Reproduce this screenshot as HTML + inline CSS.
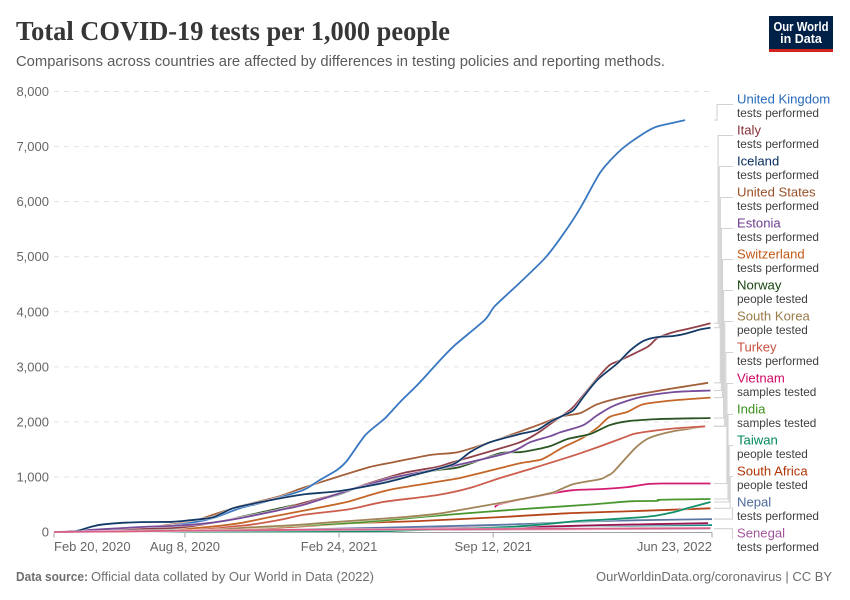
<!DOCTYPE html>
<html lang="en">
<head>
<meta charset="utf-8">
<title>Total COVID-19 tests per 1,000 people</title>
<style>
html,body{margin:0;padding:0;background:#fff;width:850px;height:600px;overflow:hidden}
svg{display:block;font-family:"Liberation Sans",sans-serif}
</style>
</head>
<body>
<svg id="chart" xmlns="http://www.w3.org/2000/svg" width="850" height="600" viewBox="0 0 850 600">
  <text x="16" y="40" font-family="'Liberation Serif',serif" font-weight="700" font-size="27" fill="#363636" textLength="434" lengthAdjust="spacingAndGlyphs">Total COVID-19 tests per 1,000 people</text>
  <text x="16" y="66" font-size="14.5" fill="#5b5b5b" textLength="649" lengthAdjust="spacingAndGlyphs">Comparisons across countries are affected by differences in testing policies and reporting methods.</text>
  <g>
    <rect x="769" y="16" width="64" height="36" fill="#002147"/>
    <rect x="769" y="49" width="64" height="3" fill="#ce261e"/>
    <text x="801" y="31" text-anchor="middle" font-size="12.5" font-weight="700" fill="#fff" textLength="55" lengthAdjust="spacingAndGlyphs">Our World</text>
    <text x="801" y="43" text-anchor="middle" font-size="12.5" font-weight="700" fill="#fff">in Data</text>
  </g>
  <g id="grid"></g>
  <g id="yaxis"></g>
  <g id="xaxis"></g>
  <g id="connectors"></g>
  <g id="lines"></g>
  <g id="legend"></g>
  <text x="16" y="581" font-size="12.5" font-weight="700" fill="#6e6e6e" textLength="72" lengthAdjust="spacingAndGlyphs">Data source:</text>
  <text x="91" y="581" font-size="12.5" fill="#6e6e6e" textLength="283" lengthAdjust="spacingAndGlyphs">Official data collated by Our World in Data (2022)</text>
  <text x="596" y="581" font-size="12.5" fill="#6e6e6e" textLength="236" lengthAdjust="spacingAndGlyphs">OurWorldinData.org/coronavirus | CC BY</text>
</svg>
<script>
// Axis labels and tick values
const yTickValues = [0, 1000, 2000, 3000, 4000, 5000, 6000, 7000, 8000];
const yTickLabels = ["0", "1,000", "2,000", "3,000", "4,000", "5,000", "6,000", "7,000", "8,000"];
const xTickDays = [0, 170, 370, 570, 854];
const xTickLabels = ["Feb 20, 2020", "Aug 8, 2020", "Feb 24, 2021", "Sep 12, 2021", "Jun 23, 2022"];

// Day offsets (days since Feb 20, 2020) and tests per 1,000 people for each series
const ukDays = [0, 60, 120, 177, 206, 241, 273, 323, 345, 367, 380, 404, 430, 449, 475, 501, 520, 559, 572, 604, 637, 660, 683, 709, 735, 761, 780, 800, 819];
const ukValues = [0, 10, 60, 165, 250, 430, 545, 760, 945, 1125, 1290, 1760, 2070, 2360, 2720, 3120, 3390, 3850, 4100, 4520, 4970, 5390, 5880, 6530, 6930, 7200, 7350, 7420, 7480];

const italyDays = [0, 86, 170, 280, 323, 367, 401, 453, 497, 518, 601, 627, 644, 657, 674, 705, 721, 735, 770, 783, 804, 826, 852];
const italyValues = [0, 55, 90, 360, 525, 690, 850, 1070, 1180, 1270, 1610, 1790, 1960, 2090, 2270, 2790, 3030, 3120, 3360, 3520, 3630, 3700, 3790];

const icelandDays = [0, 21, 34, 47, 60, 82, 112, 154, 177, 206, 232, 264, 293, 328, 371, 427, 466, 518, 540, 566, 605, 627, 644, 657, 674, 687, 705, 731, 748, 765, 783, 804, 822, 839, 852];
const icelandValues = [0, 0, 35, 90, 130, 160, 180, 185, 215, 265, 430, 530, 610, 690, 745, 890, 1030, 1230, 1450, 1630, 1780, 1850, 2000, 2090, 2210, 2450, 2760, 3060, 3300, 3470, 3540, 3560, 3610, 3680, 3710];

const usDays = [0, 112, 177, 206, 238, 293, 323, 371, 410, 441, 489, 524, 566, 618, 657, 683, 705, 739, 783, 813, 849];
const usValues = [0, 70, 190, 310, 455, 650, 800, 1015, 1180, 1270, 1400, 1450, 1630, 1890, 2090, 2160, 2320, 2450, 2560, 2630, 2710];

const estoniaDays = [0, 25, 112, 154, 199, 241, 293, 323, 388, 401, 444, 518, 592, 618, 644, 657, 687, 705, 726, 761, 804, 852];
const estoniaValues = [0, 20, 90, 110, 160, 250, 400, 490, 780, 835, 1000, 1200, 1450, 1630, 1740, 1810, 1940, 2120, 2290, 2450, 2540, 2570];

const switzerlandDays = [0, 120, 199, 241, 280, 323, 380, 410, 440, 497, 527, 553, 579, 605, 631, 644, 661, 685, 705, 721, 744, 765, 804, 852];
const switzerlandValues = [0, 10, 90, 160, 270, 385, 545, 670, 780, 910, 980, 1070, 1160, 1250, 1310, 1400, 1540, 1700, 1890, 2090, 2180, 2320, 2390, 2440];

const norwayDays = [0, 130, 206, 241, 293, 323, 367, 401, 453, 497, 527, 579, 605, 622, 644, 667, 696, 721, 744, 783, 852];
const norwayValues = [0, 30, 165, 270, 430, 525, 670, 835, 1015, 1125, 1180, 1430, 1450, 1490, 1560, 1690, 1780, 1940, 2010, 2050, 2070];

const southKoreaDays = [0, 130, 293, 349, 384, 453, 497, 527, 592, 622, 648, 674, 709, 718, 726, 754, 770, 783, 804, 845];
const southKoreaValues = [0, 10, 110, 165, 200, 270, 330, 400, 560, 640, 720, 870, 960, 1020, 1090, 1520, 1690, 1760, 1830, 1920];

const turkeyDays = [0, 130, 241, 293, 323, 384, 427, 497, 540, 579, 622, 683, 735, 752, 774, 804, 845];
const turkeyValues = [0, 20, 110, 220, 310, 415, 545, 670, 800, 980, 1160, 1430, 1690, 1780, 1830, 1880, 1920];

const vietnamEarlyDays = [0, 125, 320, 480, 570];
const vietnamEarlyValues = [0, 10, 30, 45, 60];
const vietnamDays = [572, 579, 622, 648, 674, 709, 744, 770, 792, 852];
const vietnamValues = [450, 510, 635, 705, 760, 780, 815, 870, 880, 880];

const indiaDays = [0, 199, 280, 388, 475, 540, 592, 622, 687, 718, 752, 783, 787, 852];
const indiaValues = [0, 55, 95, 165, 270, 345, 400, 430, 490, 525, 560, 565, 585, 600];

const taiwanDays = [0, 400, 460, 600, 680, 709, 744, 778, 804, 822, 852];
const taiwanValues = [0, 15, 30, 100, 200, 220, 250, 290, 360, 430, 545];

const southAfricaDays = [0, 125, 280, 388, 475, 579, 666, 752, 852];
const southAfricaValues = [0, 15, 70, 160, 200, 270, 340, 380, 430];

const nepalDays = [0, 280, 579, 709, 854];
const nepalValues = [0, 35, 130, 200, 235];

const senegalDays = [0, 300, 600, 852];
const senegalValues = [0, 20, 45, 60];

const crimsonDays = [0, 579, 709, 849];
const crimsonValues = [0, 85, 125, 160];

const tealDays = [0, 579, 696, 854];
const tealValues = [0, 70, 110, 125];

const pinkDays = [0, 319, 579, 852];
const pinkValues = [0, 40, 55, 70];

// Series names, metrics and colours in legend order
const legendNames = ["United Kingdom", "Italy", "Iceland", "United States", "Estonia", "Switzerland", "Norway", "South Korea", "Turkey", "Vietnam", "India", "Taiwan", "South Africa", "Nepal", "Senegal"];
const legendMetrics = ["tests performed", "tests performed", "tests performed", "tests performed", "tests performed", "tests performed", "people tested", "people tested", "tests performed", "samples tested", "samples tested", "people tested", "people tested", "tests performed", "tests performed"];
const legendColors = ["#286BBB", "#883039", "#00295B", "#9A5129", "#6D3E91", "#C05917", "#18470F", "#9A7B4A", "#C8503F", "#CF0A66", "#3B8E1D", "#00875E", "#B13507", "#4C6A9C", "#A2559C"];
const legendDays = [ukDays, italyDays, icelandDays, usDays, estoniaDays, switzerlandDays, norwayDays, southKoreaDays, turkeyDays, vietnamDays, indiaDays, taiwanDays, southAfricaDays, nepalDays, senegalDays];
const legendValues = [ukValues, italyValues, icelandValues, usValues, estoniaValues, switzerlandValues, norwayValues, southKoreaValues, turkeyValues, vietnamValues, indiaValues, taiwanValues, southAfricaValues, nepalValues, senegalValues];

const SVG_NS = "http://www.w3.org/2000/svg";
function xScale(day) { return 54 + day * (712 - 54) / 854; }
function yScale(value) { return 532 - value * (532 - 91.5) / 8000; }
function make(tag, attrs, parent) {
  const el = document.createElementNS(SVG_NS, tag);
  for (const k in attrs) el.setAttribute(k, attrs[k]);
  parent.appendChild(el);
  return el;
}
function slug(s) { return s.toLowerCase().replace(/[^a-z0-9]+/g, "-"); }

const grid = document.getElementById("grid");
const yaxis = document.getElementById("yaxis");
const xaxis = document.getElementById("xaxis");
const lines = document.getElementById("lines");
const connectors = document.getElementById("connectors");
const legend = document.getElementById("legend");

yTickValues.forEach(function (v, i) {
  const y = yScale(v);
  if (v !== 0) {
    const g = make("line", {x1: 54, x2: 712, y1: y, y2: y, stroke: "#e2e2e2", "stroke-width": 1, "stroke-dasharray": "5 5"}, grid);
    
    
  }
  const t = make("text", {x: 49, y: y + 4.5, "text-anchor": "end", "font-size": 13, fill: "#666"}, yaxis);
  t.textContent = yTickLabels[i];
  
  
});

const axisLine = make("line", {x1: 54, x2: 712, y1: 532.5, y2: 532.5, stroke: "#a1a1a1", "stroke-width": 1}, xaxis);



xTickDays.forEach(function (d, i) {
  const x = xScale(d);
  const tick = make("line", {x1: x, x2: x, y1: 532.5, y2: 537.5, stroke: "#a1a1a1", "stroke-width": 1}, xaxis);
  
  
  const anchor = i === 0 ? "start" : (i === xTickDays.length - 1 ? "end" : "middle");
  const t = make("text", {x: x, y: 551, "text-anchor": anchor, "font-size": 13, fill: "#666"}, xaxis);
  t.textContent = xTickLabels[i];
  
  
});

// Curve through the read points so the lines do not look faceted
function pathFor(days, values) {
  const pts = days.map(function (d, i) { return [xScale(d), yScale(values[i])]; });
  let out = "M" + pts[0][0].toFixed(1) + " " + pts[0][1].toFixed(1);
  for (let i = 0; i < pts.length - 1; i++) {
    const p0 = pts[Math.max(i - 1, 0)], p1 = pts[i], p2 = pts[i + 1], p3 = pts[Math.min(i + 2, pts.length - 1)];
    const c1x = p1[0] + (p2[0] - p0[0]) / 8, c1y = p1[1] + (p2[1] - p0[1]) / 8;
    const c2x = p2[0] - (p3[0] - p1[0]) / 8, c2y = p2[1] - (p3[1] - p1[1]) / 8;
    out += " C" + c1x.toFixed(1) + " " + c1y.toFixed(1) + " " + c2x.toFixed(1) + " " + c2y.toFixed(1) + " " + p2[0].toFixed(1) + " " + p2[1].toFixed(1);
  }
  return out;
}
function drawSeries(name, color, days, values) {
  const d = pathFor(days, values);
  const halo = make("path", {d: d, fill: "none", stroke: "#fff", "stroke-width": 2.8, "stroke-linejoin": "round", opacity: 0.7}, lines);
  
  
  const p = make("path", {d: d, fill: "none", stroke: color, "stroke-width": 1.8, "stroke-linejoin": "round", opacity: 0.92}, lines);
  
  
}

// Low lines first, so upper series overlap in the same order as the reference
drawSeries("teal-unlabelled", "#00847E", tealDays, tealValues);
drawSeries("crimson-unlabelled", "#970046", crimsonDays, crimsonValues);
drawSeries("vietnam-early", "#CF0A66", vietnamEarlyDays, vietnamEarlyValues);
[14, 13, 12, 11, 10, 9, 7, 8, 5, 6, 3, 0, 1, 4, 2].forEach(function (i) {
  drawSeries(slug(legendNames[i]), legendColors[i], legendDays[i], legendValues[i]);
});
drawSeries("pink-unlabelled", "#D9557F", pinkDays, pinkValues);

// Bracketed connectors from each line end to its legend entry
legendNames.forEach(function (name, i) {
  const values = legendValues[i];
  const startY = yScale(values[values.length - 1]);
  const labelY = 104.5 + 31 * i;
  const midX = i === 13 || i === 14 ? 732.5 : 717 + i * 1.1;
  const c = make("path", {d: "M714 " + startY.toFixed(1) + " H" + midX + " V" + labelY + " H733", fill: "none", stroke: "#d2d2d2", "stroke-width": 1.1}, connectors);
  
  

  const g = make("g", {}, legend);
  
  
  const n = make("text", {x: 737, y: 103.5 + 31 * i, "font-size": 13.1, fill: legendColors[i]}, g);
  n.textContent = name;
  
  
  const m = make("text", {x: 737, y: 117 + 31 * i, "font-size": 11.8, fill: "#3f3f3f"}, g);
  m.textContent = legendMetrics[i];
  
  
});
</script>
</body>
</html>
